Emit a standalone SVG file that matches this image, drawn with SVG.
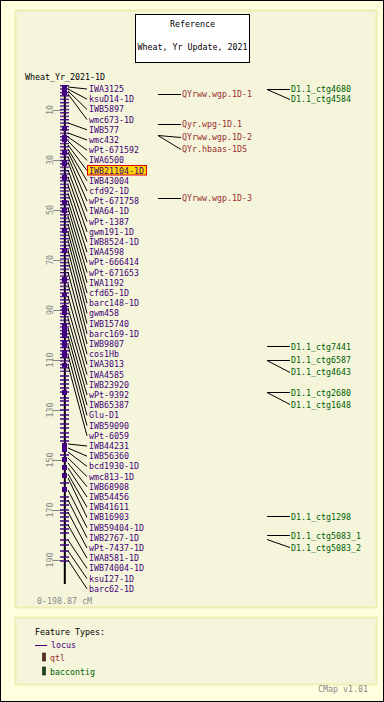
<svg xmlns="http://www.w3.org/2000/svg" width="384" height="702" viewBox="0 0 384 702">
<style>
.t{font-family:"DejaVu Sans Mono","Liberation Mono",monospace;font-size:8.3px}
.loc{fill:#3f0078}
.qtl{fill:#9a2f2f}
.ctg{fill:#006000}
.blk{fill:#000}
.gry{fill:#888}
.cn line{stroke:#000;stroke-width:1}
.tick{stroke:#888;stroke-width:1}
.feat{fill:#400080}
</style>
<defs>
<pattern id="lad" patternUnits="userSpaceOnUse" x="0" y="85" width="9" height="3.4"><rect x="0" y="0" width="9" height="1.3" fill="#400080"/></pattern>
</defs>
<rect x="0.5" y="0.5" width="383" height="701" fill="#ffffe0" stroke="#000"/>
<rect x="15.5" y="10.5" width="361" height="597" fill="#f5f5dc" stroke="#eeeeb0" stroke-width="2"/>
<rect x="15.5" y="617.5" width="361" height="67" fill="#f5f5dc" stroke="#eeeeb0" stroke-width="2"/>

<g id="title">
<rect x="135.5" y="14.5" width="114" height="48" fill="#fff" stroke="#000"/>
<text class="t blk" x="192.5" y="27" text-anchor="middle">Reference</text>
<text class="t blk" x="192.5" y="50" text-anchor="middle">Wheat, Yr Update, 2021</text>
</g>

<g id="map">
<text class="t blk" x="25" y="80">Wheat_Yr_2021-1D</text>
<g id="scale">
<line class="tick" x1="53" y1="110.5" x2="62" y2="110.5"/>
<line class="tick" x1="53" y1="160.5" x2="62" y2="160.5"/>
<line class="tick" x1="53" y1="210.5" x2="62" y2="210.5"/>
<line class="tick" x1="53" y1="260.5" x2="62" y2="260.5"/>
<line class="tick" x1="53" y1="310.5" x2="62" y2="310.5"/>
<line class="tick" x1="53" y1="360.5" x2="62" y2="360.5"/>
<line class="tick" x1="53" y1="410.5" x2="62" y2="410.5"/>
<line class="tick" x1="53" y1="460.5" x2="62" y2="460.5"/>
<line class="tick" x1="53" y1="510.5" x2="62" y2="510.5"/>
<line class="tick" x1="53" y1="560.5" x2="62" y2="560.5"/>
<text class="t gry" transform="translate(52.5,110) rotate(-90)" text-anchor="middle">10</text>
<text class="t gry" transform="translate(52.5,160) rotate(-90)" text-anchor="middle">30</text>
<text class="t gry" transform="translate(52.5,210) rotate(-90)" text-anchor="middle">50</text>
<text class="t gry" transform="translate(52.5,260) rotate(-90)" text-anchor="middle">70</text>
<text class="t gry" transform="translate(52.5,310) rotate(-90)" text-anchor="middle">90</text>
<text class="t gry" transform="translate(52.5,360) rotate(-90)" text-anchor="middle">110</text>
<text class="t gry" transform="translate(52.5,410) rotate(-90)" text-anchor="middle">130</text>
<text class="t gry" transform="translate(52.5,460) rotate(-90)" text-anchor="middle">150</text>
<text class="t gry" transform="translate(52.5,510) rotate(-90)" text-anchor="middle">170</text>
<text class="t gry" transform="translate(52.5,560) rotate(-90)" text-anchor="middle">190</text>
<text class="t gry" x="37" y="604">0-198.87 cM</text>
</g>
<rect x="63.8" y="85" width="2" height="499" fill="#000"/>
<rect x="60" y="85" width="9" height="287" fill="url(#lad)"/>
<path stroke="#400080" stroke-width="1.3" d="M60 376h9M60 380h9M60 384h9M60 388h9M60 392h9M60 398h9M60 401h9M60 405h9M60 410h9M60 415h9M60 419h9M60 424h9M60 428h9M60 433h9M60 437h9M60 441h9M60 455h9M60 483h9M60 497h9M60 501h9M60 505h9M60 510h9M60 513h9M60 517h9M60 521h9M60 525h9M60 529h9M60 533h9M60 540h9M60 545h9M60 551h9M60 557h9M60 561h9"/>
<path class="feat" d="M62 85h5v10h-5zM62 126h5v5h-5zM62 135h5v7h-5zM62 150h5v5h-5zM62 160h5v6h-5zM62 175h5v5h-5zM62 200h5v4h-5zM62 208h5v5h-5zM62 228h5v5h-5zM62 248h5v5h-5zM62 277h5v5h-5zM62 293h5v3h-5zM62 305h5v10h-5zM62 323h5v15h-5zM62 340h5v7h-5zM62 350h5v8h-5zM62 363h5v4h-5zM62 390h5v5h-5zM62 443h5v9h-5zM62 457h5v5h-5zM62 465h5v5h-5zM62 473h5v5h-5zM62 487h5v5h-5z"/>
</g>

<g id="connectors" class="cn">
<line x1="68" y1="87" x2="87" y2="89"/>
<line x1="68" y1="89" x2="87" y2="99.2"/>
<line x1="68" y1="91" x2="87" y2="109.4"/>
<line x1="68" y1="94" x2="87" y2="119.6"/>
<line x1="68" y1="123" x2="87" y2="129.8"/>
<line x1="68" y1="133" x2="87" y2="140"/>
<line x1="68" y1="137" x2="87" y2="150.2"/>
<line x1="68" y1="141" x2="87" y2="160.4"/>
<line x1="68" y1="145" x2="87" y2="170.6"/>
<line x1="68" y1="149" x2="87" y2="180.8"/>
<line x1="68" y1="152" x2="87" y2="191"/>
<line x1="68" y1="157" x2="87" y2="201.2"/>
<line x1="68" y1="162" x2="87" y2="211.4"/>
<line x1="68" y1="170" x2="87" y2="221.6"/>
<line x1="68" y1="177" x2="87" y2="231.8"/>
<line x1="68" y1="185" x2="87" y2="242"/>
<line x1="68" y1="193" x2="87" y2="252.2"/>
<line x1="68" y1="201" x2="87" y2="262.4"/>
<line x1="68" y1="208" x2="87" y2="272.6"/>
<line x1="68" y1="216" x2="87" y2="282.8"/>
<line x1="68" y1="224" x2="87" y2="293"/>
<line x1="68" y1="232" x2="87" y2="303.2"/>
<line x1="68" y1="240" x2="87" y2="313.4"/>
<line x1="68" y1="250" x2="87" y2="323.6"/>
<line x1="68" y1="260" x2="87" y2="333.8"/>
<line x1="68" y1="272" x2="87" y2="344"/>
<line x1="68" y1="284" x2="87" y2="354.2"/>
<line x1="68" y1="296" x2="87" y2="364.4"/>
<line x1="68" y1="308" x2="87" y2="374.6"/>
<line x1="68" y1="318" x2="87" y2="384.8"/>
<line x1="68" y1="328" x2="87" y2="395"/>
<line x1="68" y1="336" x2="87" y2="405.2"/>
<line x1="68" y1="345" x2="87" y2="415.4"/>
<line x1="68" y1="355" x2="87" y2="425.6"/>
<line x1="68" y1="365" x2="87" y2="435.8"/>
<line x1="68" y1="444" x2="87" y2="446"/>
<line x1="68" y1="448" x2="87" y2="456.2"/>
<line x1="68" y1="452" x2="87" y2="466.4"/>
<line x1="68" y1="458" x2="87" y2="476.6"/>
<line x1="68" y1="463" x2="87" y2="486.8"/>
<line x1="68" y1="468" x2="87" y2="497"/>
<line x1="68" y1="474" x2="87" y2="507.2"/>
<line x1="68" y1="478" x2="87" y2="517.4"/>
<line x1="68" y1="490" x2="87" y2="527.6"/>
<line x1="68" y1="500" x2="87" y2="537.8"/>
<line x1="68" y1="512" x2="87" y2="548"/>
<line x1="68" y1="525" x2="87" y2="558.2"/>
<line x1="68" y1="540" x2="87" y2="568.4"/>
<line x1="68" y1="551" x2="87" y2="578.6"/>
<line x1="68" y1="560" x2="87" y2="588.8"/>
<line x1="158" y1="94.5" x2="181" y2="94.5"/>
<line x1="158" y1="124.5" x2="181" y2="124.5"/>
<line x1="158" y1="135.5" x2="181" y2="137.5"/>
<line x1="158" y1="135.5" x2="181" y2="149.5"/>
<line x1="158" y1="198.5" x2="181" y2="198.5"/>
<line x1="267" y1="89.5" x2="290" y2="89.5"/>
<line x1="267" y1="89.5" x2="290" y2="99.5"/>
<line x1="267" y1="346.5" x2="290" y2="346.5"/>
<line x1="267" y1="360.5" x2="290" y2="360.5"/>
<line x1="267" y1="360.5" x2="290" y2="372.5"/>
<line x1="267" y1="392.5" x2="290" y2="392.5"/>
<line x1="267" y1="392.5" x2="290" y2="404.5"/>
<line x1="267" y1="516.5" x2="290" y2="516.5"/>
<line x1="267" y1="535.5" x2="290" y2="535.5"/>
<line x1="267" y1="539.5" x2="290" y2="547.5"/>
</g>

<g id="loci" class="t loc">
<g id="n0"><text x="89" y="92">IWA3125</text></g>
<g id="n1"><text x="89" y="102.2">ksuD14-1D</text></g>
<g id="n2"><text x="89" y="112.4">IWB5897</text></g>
<g id="n3"><text x="89" y="122.6">wmc673-1D</text></g>
<g id="n4"><text x="89" y="132.8">IWB577</text></g>
<g id="n5"><text x="89" y="143">wmc432</text></g>
<g id="n6"><text x="89" y="153.2">wPt-671592</text></g>
<g id="n7"><text x="89" y="163.4">IWA6500</text></g>
<g id="n8"><rect x="87.5" y="165.5" width="59" height="9.5" fill="#ffd700" stroke="#e00000"/><text x="89" y="173.6">IWB21104-1D</text></g>
<g id="n9"><text x="89" y="183.8">IWB43004</text></g>
<g id="n10"><text x="89" y="194">cfd92-1D</text></g>
<g id="n11"><text x="89" y="204.2">wPt-671758</text></g>
<g id="n12"><text x="89" y="214.4">IWA64-1D</text></g>
<g id="n13"><text x="89" y="224.6">wPt-1387</text></g>
<g id="n14"><text x="89" y="234.8">gwm191-1D</text></g>
<g id="n15"><text x="89" y="245">IWB8524-1D</text></g>
<g id="n16"><text x="89" y="255.2">IWA4598</text></g>
<g id="n17"><text x="89" y="265.4">wPt-666414</text></g>
<g id="n18"><text x="89" y="275.6">wPt-671653</text></g>
<g id="n19"><text x="89" y="285.8">IWA1192</text></g>
<g id="n20"><text x="89" y="296">cfd65-1D</text></g>
<g id="n21"><text x="89" y="306.2">barc148-1D</text></g>
<g id="n22"><text x="89" y="316.4">gwm458</text></g>
<g id="n23"><text x="89" y="326.6">IWB15740</text></g>
<g id="n24"><text x="89" y="336.8">barc169-1D</text></g>
<g id="n25"><text x="89" y="347">IWB9807</text></g>
<g id="n26"><text x="89" y="357.2">cos1Hb</text></g>
<g id="n27"><text x="89" y="367.4">IWA3013</text></g>
<g id="n28"><text x="89" y="377.6">IWA4585</text></g>
<g id="n29"><text x="89" y="387.8">IWB23920</text></g>
<g id="n30"><text x="89" y="398">wPt-9392</text></g>
<g id="n31"><text x="89" y="408.2">IWB65387</text></g>
<g id="n32"><text x="89" y="418.4">Glu-D1</text></g>
<g id="n33"><text x="89" y="428.6">IWB59090</text></g>
<g id="n34"><text x="89" y="438.8">wPt-6059</text></g>
<g id="n35"><text x="89" y="449">IWB44231</text></g>
<g id="n36"><text x="89" y="459.2">IWB56360</text></g>
<g id="n37"><text x="89" y="469.4">bcd1930-1D</text></g>
<g id="n38"><text x="89" y="479.6">wmc813-1D</text></g>
<g id="n39"><text x="89" y="489.8">IWB68908</text></g>
<g id="n40"><text x="89" y="500">IWB54456</text></g>
<g id="n41"><text x="89" y="510.2">IWB41611</text></g>
<g id="n42"><text x="89" y="520.4">IWB16903</text></g>
<g id="n43"><text x="89" y="530.6">IWB59404-1D</text></g>
<g id="n44"><text x="89" y="540.8">IWB2767-1D</text></g>
<g id="n45"><text x="89" y="551">wPt-7437-1D</text></g>
<g id="n46"><text x="89" y="561.2">IWA8581-1D</text></g>
<g id="n47"><text x="89" y="571.4">IWB74004-1D</text></g>
<g id="n48"><text x="89" y="581.6">ksuI27-1D</text></g>
<g id="n49"><text x="89" y="591.8">barc62-1D</text></g>
</g>

<g id="qtls" class="t qtl">
<g id="q1"><text x="182" y="97">QYrww.wgp.1D-1</text></g>
<g id="q2"><text x="182" y="127">Qyr.wpg-1D.1</text></g>
<g id="q3"><text x="182" y="140">QYrww.wgp.1D-2</text></g>
<g id="q4"><text x="182" y="152.3">QYr.hbaas-1DS</text></g>
<g id="q5"><text x="182" y="201.3">QYrww.wgp.1D-3</text></g>
</g>

<g id="contigs" class="t ctg">
<g id="c1"><text x="291" y="92">D1.1_ctg4680</text></g>
<g id="c2"><text x="291" y="102">D1.1_ctg4584</text></g>
<g id="c3"><text x="291" y="349.7">D1.1_ctg7441</text></g>
<g id="c4"><text x="291" y="363">D1.1_ctg6587</text></g>
<g id="c5"><text x="291" y="375.3">D1.1_ctg4643</text></g>
<g id="c6"><text x="291" y="395.7">D1.1_ctg2680</text></g>
<g id="c7"><text x="291" y="408">D1.1_ctg1648</text></g>
<g id="c8"><text x="291" y="519.7">D1.1_ctg1298</text></g>
<g id="c9"><text x="291" y="538.7">D1.1_ctg5083_1</text></g>
<g id="c10"><text x="291" y="550.7">D1.1_ctg5083_2</text></g>
</g>

<g id="legend">
<text class="t blk" x="35" y="634.7">Feature Types:</text>
<line x1="35" y1="645.5" x2="47" y2="645.5" stroke="#4b0082"/>
<text class="t loc" x="51" y="648">locus</text>
<rect x="42.5" y="653" width="3" height="8" fill="#6a2a2a" stroke="#000" stroke-width="0.5"/>
<text class="t qtl" x="50" y="661.3">qtl</text>
<rect x="42.5" y="667" width="3" height="8" fill="#145014" stroke="#000" stroke-width="0.5"/>
<text class="t ctg" x="50" y="674.7">baccontig</text>
<text class="t gry" x="318" y="692">CMap v1.01</text>
</g>
</svg>
